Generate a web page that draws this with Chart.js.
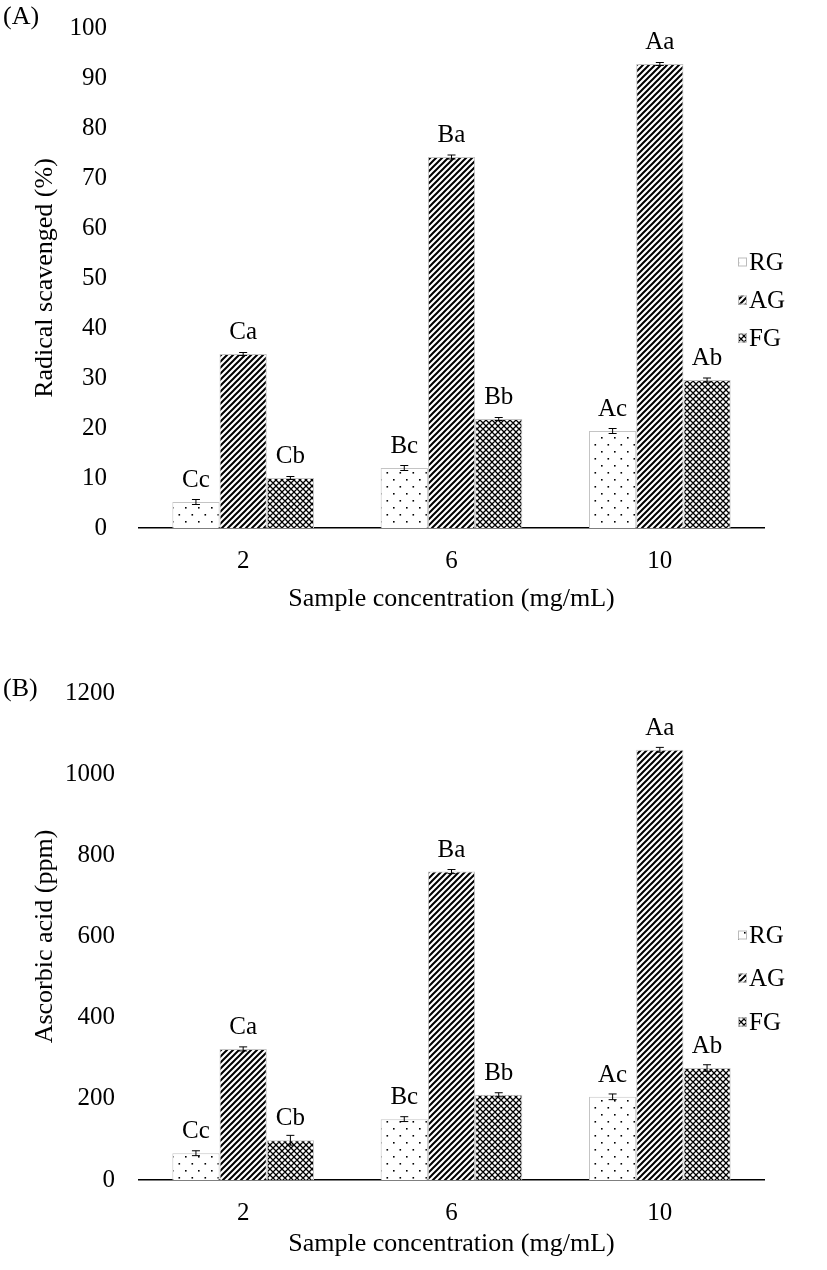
<!DOCTYPE html>
<html><head><meta charset="utf-8">
<script src="https://cdn.jsdelivr.net/npm/chart.js@4.4.0/dist/chart.umd.min.js"></script>
<style>
html,body{margin:0;padding:0;background:#fff;}
#wrap{position:relative;width:827px;height:1270px;overflow:hidden;}
.box{position:absolute;left:0;width:827px;height:635px;}
.panel{position:absolute;left:3px;font:26px "Liberation Serif","Times New Roman",serif;color:#000;line-height:1;}
</style></head><body>
<div id="wrap">
<div class="box" style="top:0"><canvas id="c1" width="827" height="635"></canvas></div>
<div class="box" style="top:635px"><canvas id="c2" width="827" height="635"></canvas></div>
<div class="panel" style="top:3px">(A)</div>
<div class="panel" style="top:675px">(B)</div>
</div>
<script>
// ---- data ----
const categories = ['2', '6', '10'];
const seriesNames = ['RG', 'AG', 'FG'];
// (A) radical scavenged (%)
const scavRG = [5.2, 12.0, 19.4];
const scavAG = [34.8, 74.2, 92.8];
const scavFG = [10.0, 21.8, 29.6];
const scavErrRG = [0.5, 0.5, 0.5];
const scavErrAG = [0.3, 0.4, 0.3];
const scavErrFG = [0.3, 0.3, 0.4];
// (B) ascorbic acid (ppm)
const ascRG = [66, 150, 205];
const ascAG = [323, 760, 1060];
const ascFG = [98, 210, 276];
const ascErrRG = [6, 6, 7];
const ascErrAG = [5, 5, 6];
const ascErrFG = [12, 5, 8];
// significance letters
const lettersRG = ['Cc', 'Bc', 'Ac'];
const lettersAG = ['Ca', 'Ba', 'Aa'];
const lettersFG = ['Cb', 'Bb', 'Ab'];
// axis ticks
const yTicksA = [0, 10, 20, 30, 40, 50, 60, 70, 80, 90, 100];
const yTicksB = [0, 200, 400, 600, 800, 1000, 1200];

const FONT = '"Liberation Serif","Times New Roman",serif';

function makePattern(kind) {
  const c = document.createElement('canvas');
  const g = c.getContext('2d');
  if (kind === 'dots') {
    c.width = 13; c.height = 14;
    g.fillStyle = '#fff'; g.fillRect(0, 0, 13, 14);
    g.fillStyle = '#000';
    g.fillRect(3, 3, 1.6, 1.6);
    g.fillRect(9.5, 10, 1.6, 1.6);
  } else if (kind === 'diag') {
    c.width = 6; c.height = 6;
    g.fillStyle = '#fff'; g.fillRect(0, 0, 6, 6);
    g.strokeStyle = '#000'; g.lineWidth = 2;
    g.beginPath();
    g.moveTo(-1, 7); g.lineTo(7, -1);
    g.moveTo(-4, 4); g.lineTo(4, -4);
    g.moveTo(2, 10); g.lineTo(10, 2);
    g.stroke();
  } else {
    c.width = 6; c.height = 6;
    g.fillStyle = '#fff'; g.fillRect(0, 0, 6, 6);
    g.strokeStyle = '#000'; g.lineWidth = 1.3;
    g.beginPath();
    g.moveTo(-1, 7); g.lineTo(7, -1);
    g.moveTo(-4, 4); g.lineTo(4, -4);
    g.moveTo(2, 10); g.lineTo(10, 2);
    g.moveTo(-1, -1); g.lineTo(7, 7);
    g.moveTo(-4, 2); g.lineTo(4, 10);
    g.moveTo(2, -4); g.lineTo(10, 4);
    g.stroke();
  }
  return document.createElement('canvas').getContext('2d').createPattern(c, 'repeat');
}
const patterns = [makePattern('dots'), makePattern('diag'), makePattern('cross')];

const overlay = {
  id: 'overlay',
  afterDatasetsDraw(chart, args, opts) {
    const ctx = chart.ctx;
    const ys = chart.scales.y;
    chart.data.datasets.forEach((ds, i) => {
      const meta = chart.getDatasetMeta(i);
      meta.data.forEach((bar, j) => {
        const v = ds.data[j], e = ds.errors[j];
        const yt = ys.getPixelForValue(v + e), yb = ys.getPixelForValue(v - e);
        ctx.save();
        ctx.strokeStyle = '#000'; ctx.lineWidth = 1;
        ctx.beginPath();
        ctx.moveTo(bar.x, yt); ctx.lineTo(bar.x, yb);
        ctx.moveTo(bar.x - 4, yt); ctx.lineTo(bar.x + 4, yt);
        ctx.moveTo(bar.x - 4, yb); ctx.lineTo(bar.x + 4, yb);
        ctx.stroke();
        ctx.fillStyle = '#000';
        ctx.font = '25px ' + FONT;
        ctx.textAlign = 'center'; ctx.textBaseline = 'alphabetic';
        ctx.fillText(ds.letters[j], bar.x, bar.y - 15);
        ctx.restore();
      });
    });
  },
  afterDraw(chart, args, opts) {
    const ctx = chart.ctx;
    chart.data.datasets.forEach((ds, i) => {
      const cy = opts.legendY[i];
      ctx.save();
      ctx.fillStyle = ds.backgroundColor;
      ctx.fillRect(opts.legendX, cy - 4.5, 9, 9);
      ctx.strokeStyle = '#bbb'; ctx.lineWidth = 1;
      ctx.strokeRect(opts.legendX + 0.5, cy - 4.5 + 0.5, 8, 8);
      ctx.fillStyle = '#000';
      ctx.font = '25px ' + FONT;
      ctx.textAlign = 'left'; ctx.textBaseline = 'middle';
      ctx.fillText(ds.label, opts.legendX + 11, cy + 1);
      ctx.restore();
    });
  }
};

function buildChart(id, vals, errs, yTicks, yTitle, L) {
  const letters = [lettersRG, lettersAG, lettersFG];
  return new Chart(document.getElementById(id), {
    type: 'bar',
    data: {
      labels: categories,
      datasets: seriesNames.map((n, i) => ({
        label: n,
        data: vals[i],
        errors: errs[i],
        letters: letters[i],
        backgroundColor: patterns[i],
        borderColor: '#c4c4c4',
        borderWidth: 1,
        categoryPercentage: 0.68,
        barPercentage: 1.0
      }))
    },
    options: {
      responsive: false,
      animation: false,
      devicePixelRatio: 1,
      layout: { padding: { left: 0, top: L.top, right: 827 - L.right, bottom: 0 } },
      plugins: {
        legend: { display: false },
        tooltip: { enabled: false },
        overlay: { legendX: L.legendX, legendY: L.legendY }
      },
      scales: {
        x: {
          grid: { display: false, drawTicks: false },
          border: { display: true, color: '#000', width: 1.5 },
          ticks: { color: '#000', font: { family: FONT, size: 25 }, padding: L.xTickPad },
          title: { display: true, text: 'Sample concentration (mg/mL)', color: '#000',
                   font: { family: FONT, size: 26 }, padding: { top: 0, bottom: L.xTitlePad } },
          afterFit(s) { s.height = L.xH; s.paddingLeft = 0; s.paddingRight = 0; }
        },
        y: {
          min: yTicks[0], max: yTicks[yTicks.length - 1],
          afterBuildTicks(s) { s.ticks = yTicks.map(v => ({ value: v })); },
          grid: { display: false, drawTicks: false },
          border: { display: false },
          ticks: { color: '#000', font: { family: FONT, size: 25 }, padding: L.yTickPad,
                   callback: v => String(v) },
          title: { display: true, text: yTitle, color: '#000',
                   font: { family: FONT, size: 26 }, padding: { top: L.yTitlePad, bottom: 0 } },
          afterFit(s) { s.width = L.left; s.paddingTop = 0; s.paddingBottom = 0; }
        }
      }
    },
    plugins: [overlay]
  });
}

buildChart('c1', [scavRG, scavAG, scavFG], [scavErrRG, scavErrAG, scavErrFG], yTicksA,
  'Radical scavenged (%)',
  { left: 139, right: 764, top: 28, xH: 107, xTickPad: 18, xTitlePad: 20, yTickPad: 32, yTitlePad: 30,
    legendX: 738, legendY: [262, 300, 338] });

buildChart('c2', [ascRG, ascAG, ascFG], [ascErrRG, ascErrAG, ascErrFG], yTicksB,
  'Ascorbic acid (ppm)',
  { left: 139, right: 764, top: 58, xH: 90, xTickPad: 18, xTitlePad: 10, yTickPad: 24, yTitlePad: 30,
    legendX: 738, legendY: [300, 343, 387] });
</script>
</body></html>
